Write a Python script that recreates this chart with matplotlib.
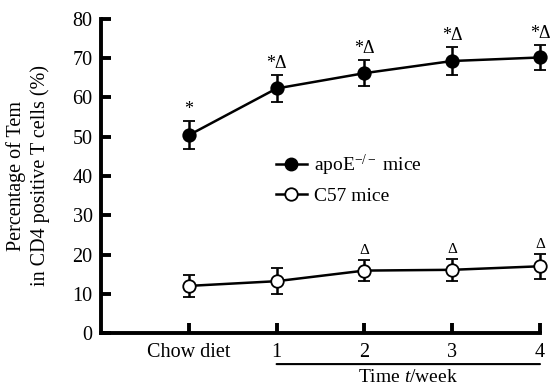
import numpy as np
import matplotlib.pyplot as plt
import matplotlib.transforms as mtransforms
from matplotlib.lines import Line2D

plt.rcParams['font.family'] = ['Liberation Serif', 'DejaVu Serif']
plt.rcParams['mathtext.fontset'] = 'custom'
plt.rcParams['mathtext.rm'] = 'Liberation Serif'
plt.rcParams['mathtext.it'] = 'Liberation Serif:italic'

categories = ['Chow diet', '1', '2', '3', '4']
apoe_mean = [50.4, 62.3, 66.2, 69.3, 70.2]
apoe_err = [3.5, 3.4, 3.3, 3.5, 3.1]
c57_mean = [12.0, 13.2, 15.9, 16.1, 17.0]
c57_err = [2.8, 3.3, 2.7, 2.8, 3.2]
apoe_marks = ['*', '*Δ', '*Δ', '*Δ', '*Δ']
c57_marks = ['', '', 'Δ', 'Δ', 'Δ']

fig = plt.figure(figsize=(5.58, 3.89), dpi=100)
ax = fig.add_axes([101 / 558, 1 - 333 / 389, 439 / 558, 314 / 389])

x = np.arange(len(categories))
for mean, err, face in [(apoe_mean, apoe_err, 'black'), (c57_mean, c57_err, 'white')]:
    eb = ax.errorbar(x, mean, yerr=err, fmt='-o', color='black', mfc=face,
                     mec='black', ms=9, lw=1.8, elinewidth=1.8, capsize=4,
                     capthick=1.8, mew=1.3, zorder=3)
    for artist in eb.lines[0:1] + tuple(eb.lines[1]) + tuple(eb.lines[2]):
        artist.set_clip_on(False)

for xi, m, e, s in zip(x, apoe_mean, apoe_err, apoe_marks):
    ax.text(xi, m + e + 0.8, s, ha='center', va='bottom', fontsize=13)
for xi, m, e, s in zip(x, c57_mean, c57_err, c57_marks):
    if s:
        ax.text(xi, m + e + 0.8, s, ha='center', va='bottom', fontsize=11)

ax.set_xlim(-1, 4)
ax.set_ylim(0, 80)
ax.set_yticks(range(0, 81, 10))
ax.set_xticks(x)
ax.set_xticklabels(categories)
for side in ['top', 'right']:
    ax.spines[side].set_visible(False)
for side in ['left', 'bottom']:
    ax.spines[side].set_linewidth(2.8)
ax.tick_params(direction='in', width=2.8, length=7, labelsize=14.5)
ax.tick_params(axis='y', pad=6)
ax.tick_params(axis='x', pad=7)

ax.set_ylabel('Percentage of Tem\nin CD4 positive T cells (%)', fontsize=14.5,
              linespacing=1.3, labelpad=16)

# bracket line below the weeks and its caption
ax.annotate('', xy=(1, -0.099), xycoords=('data', 'axes fraction'),
            xytext=(4, -0.099), textcoords=('data', 'axes fraction'),
            arrowprops=dict(arrowstyle='-', lw=1.5, color='black', shrinkA=0, shrinkB=0))
trans = mtransforms.blended_transform_factory(ax.transData, fig.transFigure)
ax.text(2.5, 0.008, 'Time $t$/week', transform=trans,
        ha='center', va='bottom', fontsize=14)

handles = [Line2D([], [], color='black', lw=1.8, marker='o', ms=9, mfc='black', mec='black'),
           Line2D([], [], color='black', lw=1.8, marker='o', ms=9, mfc='white', mec='black', mew=1.3)]
ax.legend(handles, ['apoE$^{-/-}$ mice', 'C57 mice'], loc='upper left',
          bbox_to_anchor=(0.38, 0.6), frameon=False, fontsize=14,
          handlelength=1.6, handletextpad=0.4, labelspacing=0.5, borderaxespad=0)

fig.savefig('out.png', dpi=100)
